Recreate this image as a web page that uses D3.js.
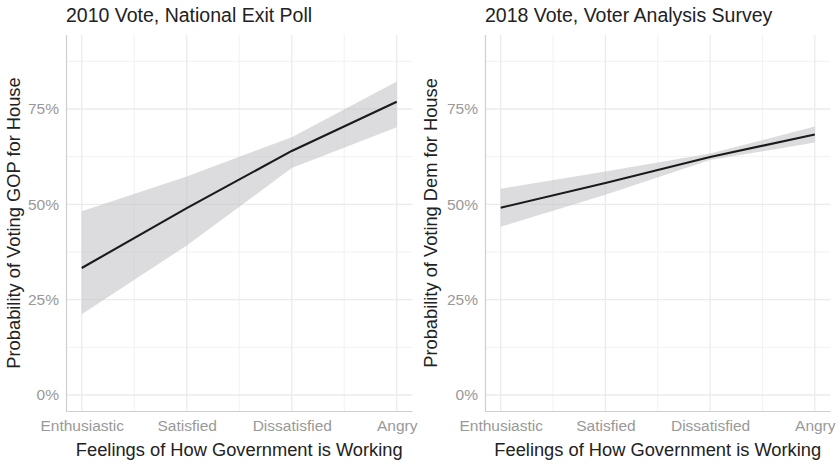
<!DOCTYPE html>
<html>
<head>
<meta charset="utf-8">
<script src="https://cdn.jsdelivr.net/npm/d3@7"></script>
<style>
  html, body { margin: 0; padding: 0; background: #fff; }
  svg { display: block; font-family: "Liberation Sans", Arial, Helvetica, sans-serif; }
</style>
</head>
<body>
<svg id="chart" width="840" height="464"></svg>
<script>
// Feelings about government, ordered from most positive to most negative
const categories = ["Enthusiastic", "Satisfied", "Dissatisfied", "Angry"];

// 2010 National Exit Poll: predicted probability of a GOP House vote
const gop2010 = [0.333, 0.490, 0.640, 0.769];
const gop2010Lo = [0.212, 0.392, 0.595, 0.702];
const gop2010Hi = [0.482, 0.573, 0.676, 0.822];

// 2018 Voter Analysis Survey: predicted probability of a Dem House vote
const dem2018 = [0.491, 0.556, 0.624, 0.683];
const dem2018Lo = [0.441, 0.525, 0.616, 0.662];
const dem2018Hi = [0.541, 0.586, 0.633, 0.704];

const yTicks = [0, 0.25, 0.5, 0.75];
const yMinor = [0.125, 0.375, 0.625, 0.875];
const xMinor = [1.5, 2.5, 3.5];

const panels = [
  { title: "2010 Vote, National Exit Poll", yTitle: "Probability of Voting GOP for House",
    est: gop2010, lo: gop2010Lo, hi: gop2010Hi, x0: 66, x1: 412.5, yTitleX: 20 },
  { title: "2018 Vote, Voter Analysis Survey", yTitle: "Probability of Voting Dem for House",
    est: dem2018, lo: dem2018Lo, hi: dem2018Hi, x0: 485, x1: 830.5, yTitleX: 437 }
];

const plotTop = 35, plotBottom = 411;
const svg = d3.select("#chart");
const fmt = d3.format(".0%");

panels.forEach(p => {
  const x = d3.scaleLinear().domain([0.85, 4.15]).range([p.x0, p.x1]);
  const y = d3.scaleLinear().domain([-0.042, 0.944]).range([plotBottom, plotTop]);
  const g = svg.append("g");

  // minor grid
  g.selectAll(".ymin").data(yMinor).join("line")
    .attr("x1", p.x0).attr("x2", p.x1)
    .attr("y1", d => y(d)).attr("y2", d => y(d))
    .attr("stroke", "#efefef").attr("stroke-width", 0.9);
  g.selectAll(".xmin").data(xMinor).join("line")
    .attr("x1", d => x(d)).attr("x2", d => x(d))
    .attr("y1", plotTop).attr("y2", plotBottom)
    .attr("stroke", "#efefef").attr("stroke-width", 0.9);

  // major grid
  g.selectAll(".ymaj").data(yTicks).join("line")
    .attr("x1", p.x0).attr("x2", p.x1)
    .attr("y1", d => y(d)).attr("y2", d => y(d))
    .attr("stroke", "#ebebeb").attr("stroke-width", 1.3);
  g.selectAll(".xmaj").data(d3.range(1, categories.length + 1)).join("line")
    .attr("x1", d => x(d)).attr("x2", d => x(d))
    .attr("y1", plotTop).attr("y2", plotBottom)
    .attr("stroke", "#ebebeb").attr("stroke-width", 1.3);

  const rows = categories.map((c, i) => ({ i: i + 1, est: p.est[i], lo: p.lo[i], hi: p.hi[i] }));

  // confidence band
  g.append("path").datum(rows)
    .attr("d", d3.area().x(d => x(d.i)).y0(d => y(d.lo)).y1(d => y(d.hi)))
    .attr("fill", "#bfc0c3").attr("fill-opacity", 0.55);

  // estimate line
  g.append("path").datum(rows)
    .attr("d", d3.line().x(d => x(d.i)).y(d => y(d.est)))
    .attr("fill", "none").attr("stroke", "#1a1a1a").attr("stroke-width", 2.1);

  // axis lines
  g.append("line").attr("x1", p.x0 + 0.5).attr("x2", p.x0 + 0.5).attr("y1", plotTop).attr("y2", plotBottom)
    .attr("stroke", "#cfcfcf").attr("stroke-width", 1.2);
  g.append("line").attr("x1", p.x0).attr("x2", p.x1).attr("y1", plotBottom + 0.5).attr("y2", plotBottom + 0.5)
    .attr("stroke", "#cfcfcf").attr("stroke-width", 1.2);

  // y axis labels
  const ya = g.append("g").attr("transform", `translate(${p.x0},0)`)
    .call(d3.axisLeft(y).tickValues(yTicks).tickFormat(fmt).tickSize(0).tickPadding(7));
  ya.select(".domain").remove();
  ya.selectAll("text").attr("fill", "#999999").attr("font-size", 15.5)
    .style("font-family", "'Liberation Sans', Arial, sans-serif");

  // x axis labels
  const xa = g.append("g").attr("transform", `translate(0,${plotBottom})`)
    .call(d3.axisBottom(x).tickValues(d3.range(1, categories.length + 1))
      .tickFormat(d => categories[d - 1]).tickSize(0).tickPadding(9));
  xa.select(".domain").remove();
  xa.selectAll("text").attr("fill", "#999999").attr("font-size", 15.5)
    .style("font-family", "'Liberation Sans', Arial, sans-serif");

  // titles
  g.append("text").attr("x", p.x0).attr("y", 22)
    .attr("font-size", 19.5).attr("fill", "#222").text(p.title);
  g.append("text").attr("x", (p.x0 + p.x1) / 2).attr("y", 456)
    .attr("text-anchor", "middle").attr("font-size", 18.3).attr("fill", "#222")
    .text("Feelings of How Government is Working");
  g.append("text")
    .attr("transform", `translate(${p.yTitleX},${(plotTop + plotBottom) / 2}) rotate(-90)`)
    .attr("text-anchor", "middle").attr("font-size", 18.3).attr("fill", "#222")
    .text(p.yTitle);
});
</script>
</body>
</html>
